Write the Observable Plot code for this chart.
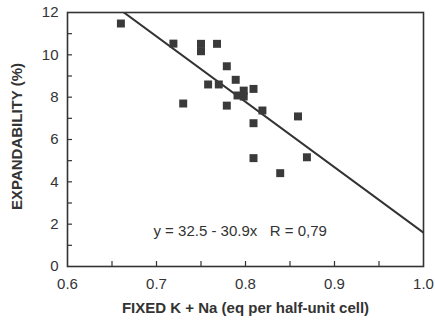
<!DOCTYPE html>
<html><head><meta charset="utf-8">
<script src="https://cdn.jsdelivr.net/npm/d3@7"></script>
<script src="https://cdn.jsdelivr.net/npm/@observablehq/plot@0.6"></script>
<style>body{margin:0;background:#fff}</style>
</head><body><div id="chart"></div>
<script>
const fixedKNa = [0.660,0.719,0.750,0.750,0.768,0.779,0.789,0.758,0.770,0.798,0.809,0.791,0.798,0.730,0.779,0.819,0.859,0.809,0.809,0.869,0.839];
const expandability = [11.48,10.53,10.52,10.17,10.52,9.46,8.82,8.60,8.60,8.31,8.39,8.08,8.03,7.70,7.60,7.37,7.09,6.77,5.12,5.16,4.41];
const xTickLabels = [0.6,0.7,0.8,0.9,1.0];
const yTickLabels = [0,2,4,6,8,10,12];
const xTicksAll = [0.65,0.7,0.75,0.8,0.85,0.9,0.95];
const yTicksAll = [1,2,3,4,5,6,7,8,9,10,11];
const intercept = 32.5, slope = -30.9;
const fitX = [0.6, 1.0];
const annotation = ["y = 32.5 - 30.9x \u00a0\u00a0R = 0,79"];

const points = fixedKNa.map((x,i)=>({x, y: expandability[i]}));
const fit = fitX.map(x=>({x, y: intercept + slope*x}));

const ink = "#333";
const chart = Plot.plot({
  width: 435, height: 326,
  marginLeft: 67, marginRight: 12, marginTop: 12, marginBottom: 60,
  style: {fontFamily: "Liberation Sans, Arial, sans-serif", fontSize: "15px", color: ink, background: "#fff"},
  x: {domain: [0.6, 1.0]},
  y: {domain: [0, 12]},
  marks: [
    Plot.axisX({ticks: xTickLabels, tickSize: 0, tickPadding: 12, tickFormat: d=>d.toFixed(1), label: null, fill: ink, fontSize: 15}),
    Plot.axisY({ticks: yTickLabels, tickSize: 0, tickPadding: 9, label: null, fill: ink, fontSize: 15}),
    Plot.ruleX(xTicksAll, {x: d=>d, insetTop: 249, stroke: ink, strokeWidth: 1.2}),
    Plot.ruleY(yTicksAll, {y: d=>d, insetRight: 351, stroke: ink, strokeWidth: 1.2}),
    Plot.line(fit, {x: "x", y: "y", stroke: ink, strokeWidth: 2, clip: true}),
    Plot.dot(points, {x: "x", y: "y", symbol: "square", r: 4.5, fill: "#3a3a3a", stroke: "none"}),
    Plot.text(annotation, {x: 0.794, y: 1.65, text: d=>d, fontSize: 15, fill: ink}),
    Plot.frame({stroke: ink, strokeWidth: 1.6}),
    Plot.text(["FIXED K + Na (eq per half-unit cell)"], {frameAnchor: "bottom", dy: 46, text: d=>d, fontWeight: "bold", fontSize: 15, fill: ink}),
    Plot.text(["EXPANDABILITY (%)"], {frameAnchor: "left", dx: -50, dy: -3, rotate: -90, textAnchor: "middle", text: d=>d, fontWeight: "bold", fontSize: 15, fill: ink})
  ]
});
document.getElementById("chart").append(chart);
</script>
</body></html>
